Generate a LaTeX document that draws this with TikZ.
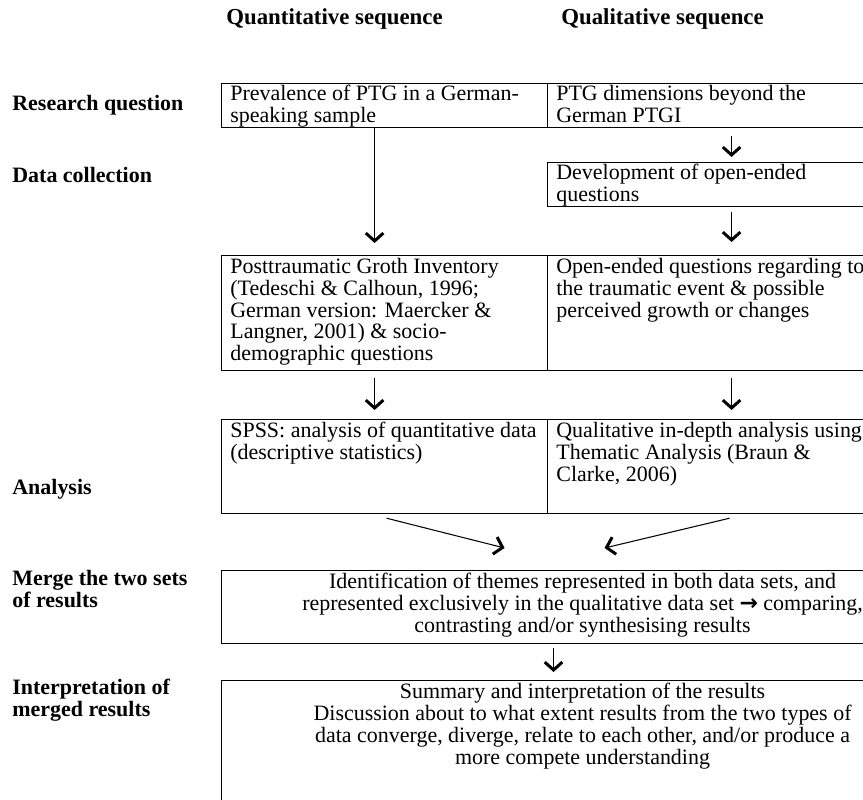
\documentclass[tikz,border=0pt]{standalone}
\usepackage{fontspec}
\setmainfont{Liberation Serif}
\newfontfamily\symfont{DejaVu Sans}
\usetikzlibrary{positioning, calc, arrows.meta}

\tikzset{
  stage/.style={anchor=north west, inner sep=0pt, align=left,
    font=\bfseries\fontsize{12.5}{12.5}\selectfont},
  colhead/.style={anchor=north west, inner sep=0pt,
    font=\bfseries\fontsize{13}{13}\selectfont},
  cell/.style={draw, line width=0.7pt, anchor=north west, inner sep=0pt},
  celltext/.style={anchor=north west, inner sep=0pt, align=left,
    font=\fontsize{12.5}{12.4}\selectfont},
  flow/.style={line width=0.6pt,
    -{Straight Barb[length=4.5pt, width=10pt, line width=1.7pt]}},
}

\begin{document}
\begin{tikzpicture}[x=0.02cm, y=-0.02cm]
  \useasboundingbox (0,0) rectangle (863,800);

  %% column heads
  \node[colhead] (hquan) at (226,8) {Quantitative sequence};
  \node[colhead] (hqual) at (561,8) {Qualitative sequence};

  %% stage labels
  \node[stage] (lrq) at (12,95) {Research question};
  \node[stage] (ldc) at (12,167) {Data collection};
  \node[stage] (lan) at (12,479) {Analysis};
  \node[stage] (lmrg) at (12,570) {Merge the two sets\\of results};
  \node[stage] (litp) at (12,679) {Interpretation of\\merged results};

  %% boxes
  \node[cell, minimum width=6.52cm, minimum height=0.88cm] (rq1) at (221,83) {};
  \node[cell, minimum width=7.92cm, minimum height=0.88cm] (rq2) at (547,83) {};
  \node[cell, minimum width=7.92cm, minimum height=0.88cm] (dev) at (547,162) {};
  \node[cell, minimum width=6.52cm, minimum height=2.3cm] (dc1) at (221,255) {};
  \node[cell, minimum width=7.92cm, minimum height=2.3cm] (dc2) at (547,255) {};
  \node[cell, minimum width=6.52cm, minimum height=1.88cm] (an1) at (221,419) {};
  \node[cell, minimum width=7.92cm, minimum height=1.88cm] (an2) at (547,419) {};
  \node[cell, minimum width=14.44cm, minimum height=1.46cm] (mrg) at (221,570) {};
  \node[cell, minimum width=14.44cm, minimum height=3cm] (itp) at (221,680) {};

  %% box texts
  \node[celltext] at ([shift={(9,2)}]rq1.north west)
    {Prevalence of PTG in a German-\\speaking sample};
  \node[celltext] at ([shift={(9,2)}]rq2.north west)
    {PTG dimensions beyond the\\German PTGI};
  \node[celltext] at ([shift={(9,2)}]dev.north west)
    {Development of open-ended\\questions};
  \node[celltext] at ([shift={(9,3)}]dc1.north west)
    {Posttraumatic Groth Inventory\\(Tedeschi \& Calhoun, 1996;\\German version: Maercker \&\\Langner, 2001) \& socio-\\demographic questions};
  \node[celltext] at ([shift={(9,3)}]dc2.north west)
    {Open-ended questions regarding to\\the traumatic event \& possible\\perceived growth or changes};
  \node[celltext] at ([shift={(9,3)}]an1.north west)
    {SPSS: analysis of quantitative data\\(descriptive statistics)};
  \node[celltext] at ([shift={(9,3)}]an2.north west)
    {Qualitative in-depth analysis using\\Thematic Analysis (Braun \&\\Clarke, 2006)};
  \node[celltext, anchor=north, align=center] at ([yshift=-0.06cm]mrg.north)
    {Identification of themes represented in both data sets, and\\represented exclusively in the qualitative data set {\symfont\bfseries →} comparing,\\contrasting and/or synthesising results};
  \node[celltext, anchor=north, align=center] at ([yshift=-0.06cm]itp.north)
    {Summary and interpretation of the results\\Discussion about to what extent results from the two types of\\data converge, diverge, relate to each other, and/or produce a\\more compete understanding};

  %% connectors
  \draw[flow, shorten >=0.24cm]
    ([xshift=-0.2cm]rq1.south) -- ([xshift=-0.2cm]dc1.north);
  \draw[flow, shorten <=0.16cm, shorten >=0.1cm]
    ([xshift=-0.28cm]rq2.south) -- ([xshift=-0.28cm]dev.north);
  \draw[flow, shorten <=0.1cm, shorten >=0.26cm]
    ([xshift=-0.28cm]dev.south) -- ([xshift=-0.28cm]dc2.north);
  \draw[flow, shorten <=0.14cm, shorten >=0.18cm]
    ([xshift=-0.2cm]dc1.south) -- ([xshift=-0.2cm]an1.north);
  \draw[flow, shorten <=0.14cm, shorten >=0.18cm]
    ([xshift=-0.28cm]dc2.south) -- ([xshift=-0.28cm]an2.north);
  \draw[flow] ([shift={(0.04cm,-0.08cm)}]an1.south) -- ([shift={(-1.56cm,0.44cm)}]mrg.north);
  \draw[flow] ([shift={(-0.32cm,-0.08cm)}]an2.south) -- ([shift={(0.44cm,0.44cm)}]mrg.north);
  \draw[flow, shorten <=0.08cm, shorten >=0.16cm]
    ([xshift=-0.58cm]mrg.south) -- ([xshift=-0.58cm]itp.north);
\end{tikzpicture}
\end{document}
